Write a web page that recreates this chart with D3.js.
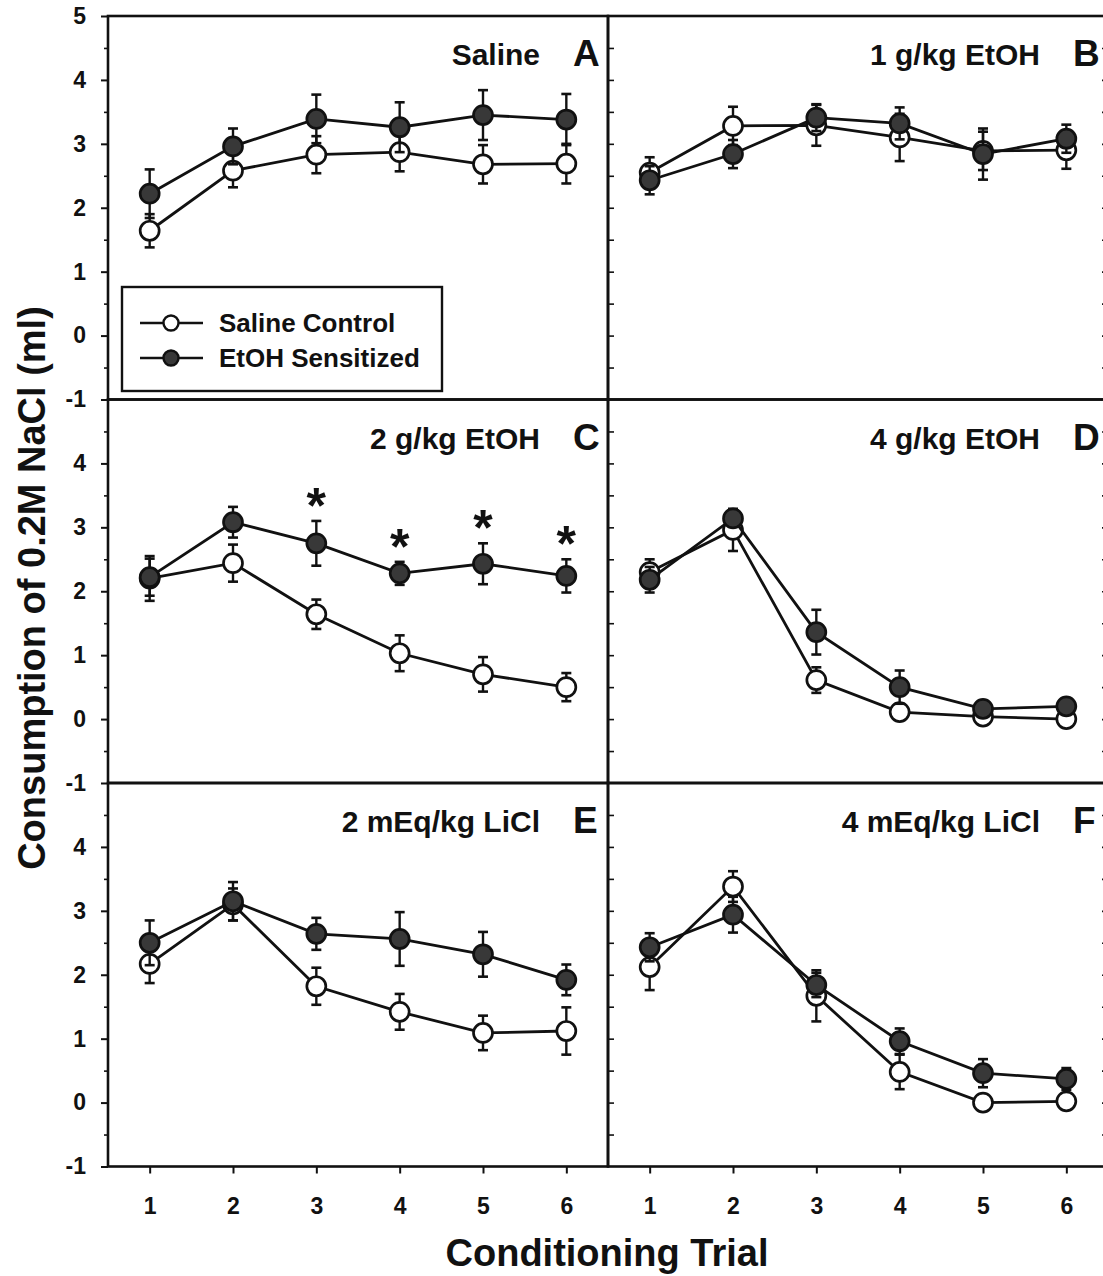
<!DOCTYPE html>
<html>
<head>
<meta charset="utf-8">
<script src="https://cdn.jsdelivr.net/npm/d3@7"></script>
<style>
  html, body { margin: 0; padding: 0; background: #fff; }
  svg { display: block; }
  text { font-family: "Liberation Sans", Arial, Helvetica, sans-serif; font-weight: bold; fill: #111; }
</style>
</head>
<body>
<script>
// Conditioning trials shared by every panel
const trials = [1, 2, 3, 4, 5, 6];

// Panel labels, in reading order A-F
const panelTitles = ["Saline", "1 g/kg EtOH", "2 g/kg EtOH", "4 g/kg EtOH", "2 mEq/kg LiCl", "4 mEq/kg LiCl"];
const panelLetters = ["A", "B", "C", "D", "E", "F"];

// Mean NaCl consumption (ml) and SEM per trial, saline control group
const controlMeans = [
  [1.64, 2.58, 2.83, 2.87, 2.68, 2.69],
  [2.55, 3.28, 3.29, 3.10, 2.89, 2.90],
  [2.20, 2.44, 1.64, 1.03, 0.70, 0.50],
  [2.30, 2.96, 0.61, 0.11, 0.04, 0.00],
  [2.17, 3.10, 1.82, 1.42, 1.09, 1.12],
  [2.12, 3.38, 1.67, 0.48, 0.00, 0.02]
];
const controlSEM = [
  [0.26, 0.26, 0.29, 0.30, 0.30, 0.31],
  [0.24, 0.30, 0.32, 0.37, 0.30, 0.29],
  [0.35, 0.29, 0.23, 0.28, 0.27, 0.22],
  [0.20, 0.33, 0.20, 0.08, 0.05, 0.05],
  [0.30, 0.25, 0.29, 0.28, 0.27, 0.37],
  [0.36, 0.24, 0.40, 0.27, 0.04, 0.04]
];

// Mean NaCl consumption (ml) and SEM per trial, EtOH sensitized group
const sensitizedMeans = [
  [2.22, 2.96, 3.39, 3.26, 3.45, 3.38],
  [2.43, 2.84, 3.41, 3.32, 2.84, 3.08],
  [2.22, 3.08, 2.75, 2.28, 2.43, 2.24],
  [2.18, 3.14, 1.36, 0.50, 0.16, 0.20],
  [2.50, 3.15, 2.64, 2.56, 2.32, 1.92],
  [2.43, 2.94, 1.84, 0.96, 0.46, 0.37]
];
const sensitizedSEM = [
  [0.38, 0.28, 0.38, 0.39, 0.39, 0.40],
  [0.22, 0.22, 0.21, 0.25, 0.40, 0.22],
  [0.29, 0.24, 0.35, 0.18, 0.32, 0.26],
  [0.20, 0.13, 0.35, 0.26, 0.07, 0.07],
  [0.35, 0.30, 0.25, 0.42, 0.35, 0.24],
  [0.22, 0.28, 0.19, 0.20, 0.22, 0.17]
];

// Trials with a significant group difference, per panel
const significantTrials = [[], [], [3, 4, 5, 6], [], [], []];

// Legend entries and axis titles
const seriesNames = ["Saline Control", "EtOH Sensitized"];
const yTitle = "Consumption of 0.2M NaCl (ml)";
const xTitle = "Conditioning Trial";

// ---------------- layout ----------------
const W = 1103, H = 1276;
const plotLeft = 108, panelW = 500;
const plotTop = 16, rowH = 383.5;
const nRows = 3, nCols = 2;

const svg = d3.select("body").append("svg")
  .attr("width", W).attr("height", H)
  .attr("viewBox", `0 0 ${W} ${H}`);
svg.append("rect").attr("width", W).attr("height", H).attr("fill", "#fff");

const ink = "#111";
const filledColor = "#383838";
const tickFmt = d => String(d);   // plain hyphen for negatives

function panelGeom(i) {
  const r = Math.floor(i / nCols), c = i % nCols;
  const x0 = plotLeft + c * panelW, y0 = plotTop + r * rowH;
  const x = d3.scaleLinear().domain([0.5, 6.5]).range([x0, x0 + panelW]);
  const y = d3.scaleLinear().domain([-1, 5]).range([y0 + rowH, y0]);
  return { r, c, x0, y0, x, y };
}

const halfSteps = d3.range(-1, 5.01, 0.5);

function styleTickText(sel) {
  sel.selectAll("text").attr("font-size", 23).attr("fill", ink)
    .attr("font-family", "Liberation Sans, Arial, sans-serif").attr("font-weight", "bold");
}

for (let i = 0; i < 6; i++) {
  const g = panelGeom(i);
  const pg = svg.append("g");

  // y axis: labelled on the outer left column, inward ticks along the divider
  if (g.c === 0) {
    const majors = g.r === 0 ? [-1, 0, 1, 2, 3, 4, 5] : [-1, 0, 1, 2, 3, 4];
    const majAx = pg.append("g").attr("transform", `translate(${g.x0},0)`)
      .call(d3.axisLeft(g.y).tickValues(majors).tickSize(7).tickPadding(15).tickFormat(tickFmt));
    majAx.select(".domain").remove();
    majAx.selectAll("line").attr("stroke", ink).attr("stroke-width", 2);
    styleTickText(majAx);
    const minAx = pg.append("g").attr("transform", `translate(${g.x0},0)`)
      .call(d3.axisLeft(g.y).tickValues(halfSteps.filter(v => v % 1 !== 0)).tickSize(4).tickFormat(""));
    minAx.select(".domain").remove();
    minAx.selectAll("line").attr("stroke", ink).attr("stroke-width", 1.6);
  } else {
    const inner = halfSteps.filter(v => v > -1 && v < 5);
    const inAx = pg.append("g").attr("transform", `translate(${g.x0},0)`)
      .call(d3.axisRight(g.y).tickValues(inner).tickSize(6).tickFormat(""));
    inAx.select(".domain").remove();
    inAx.selectAll("line").attr("stroke", ink).attr("stroke-width", 1.6);
    const outAx = pg.append("g").attr("transform", `translate(${g.x0 + panelW},0)`)
      .call(d3.axisLeft(g.y).tickValues(inner).tickSize(6).tickFormat(""));
    outAx.select(".domain").remove();
    outAx.selectAll("line").attr("stroke", ink).attr("stroke-width", 1.6);
  }

  // x axis on the bottom row
  if (g.r === nRows - 1) {
    const xAx = pg.append("g").attr("transform", `translate(0,${g.y0 + rowH})`)
      .call(d3.axisBottom(g.x).tickValues(trials).tickSize(7).tickPadding(24).tickFormat(tickFmt));
    xAx.select(".domain").remove();
    xAx.selectAll("line").attr("stroke", ink).attr("stroke-width", 2);
    styleTickText(xAx);
  }

  // panel frame
  pg.append("rect")
    .attr("x", g.x0).attr("y", g.y0)
    .attr("width", panelW).attr("height", rowH)
    .attr("fill", "none").attr("stroke", ink).attr("stroke-width", 2.6);

  // panel title and letter
  pg.append("text")
    .attr("x", g.x0 + 432).attr("y", g.y0 + 49)
    .attr("text-anchor", "end").attr("font-size", 30)
    .text(panelTitles[i]);
  pg.append("text")
    .attr("x", g.x0 + 465).attr("y", g.y0 + 50)
    .attr("text-anchor", "start").attr("font-size", 37)
    .text(panelLetters[i]);

  // series: control first, sensitized drawn over it
  const series = [
    { means: controlMeans[i], sem: controlSEM[i], fill: "#fff" },
    { means: sensitizedMeans[i], sem: sensitizedSEM[i], fill: filledColor }
  ];
  const line = d3.line().x((d, k) => g.x(trials[k])).y(d => g.y(d));

  series.forEach(s => {
    const sg = pg.append("g");
    sg.append("path").datum(s.means)
      .attr("d", line).attr("fill", "none")
      .attr("stroke", ink).attr("stroke-width", 2.8);

    const eb = sg.selectAll(".eb").data(s.means).enter().append("g");
    eb.append("line")
      .attr("x1", (d, k) => g.x(trials[k])).attr("x2", (d, k) => g.x(trials[k]))
      .attr("y1", (d, k) => g.y(d - s.sem[k])).attr("y2", (d, k) => g.y(d + s.sem[k]))
      .attr("stroke", ink).attr("stroke-width", 2.4);
    [-1, 1].forEach(sign => {
      eb.append("line")
        .attr("x1", (d, k) => g.x(trials[k]) - 5).attr("x2", (d, k) => g.x(trials[k]) + 5)
        .attr("y1", (d, k) => g.y(d + sign * s.sem[k])).attr("y2", (d, k) => g.y(d + sign * s.sem[k]))
        .attr("stroke", ink).attr("stroke-width", 2.6);
    });

    sg.selectAll("circle").data(s.means).enter().append("circle")
      .attr("cx", (d, k) => g.x(trials[k])).attr("cy", d => g.y(d))
      .attr("r", 9.5).attr("fill", s.fill)
      .attr("stroke", ink).attr("stroke-width", 2.7);
  });

  // significance markers above the sensitized error bar
  significantTrials[i].forEach(t => {
    const k = trials.indexOf(t);
    const yTop = g.y(sensitizedMeans[i][k] + sensitizedSEM[i][k]);
    pg.append("text")
      .attr("x", g.x(t)).attr("y", yTop + 2)
      .attr("text-anchor", "middle").attr("font-size", 50)
      .text("*");
  });
}

// legend inside panel A
const lg = svg.append("g");
lg.append("rect").attr("x", 122).attr("y", 287).attr("width", 320).attr("height", 104)
  .attr("fill", "#fff").attr("stroke", ink).attr("stroke-width", 2.4);
seriesNames.forEach((name, k) => {
  const yy = 323 + k * 35;
  lg.append("line").attr("x1", 140).attr("x2", 203).attr("y1", yy).attr("y2", yy)
    .attr("stroke", ink).attr("stroke-width", 2.6);
  lg.append("circle").attr("cx", 171).attr("cy", yy).attr("r", 7.5)
    .attr("fill", k === 0 ? "#fff" : filledColor).attr("stroke", ink).attr("stroke-width", 2.4);
  lg.append("text").attr("x", 219).attr("y", yy + 9).attr("font-size", 26).text(name);
});

// axis titles
svg.append("text")
  .attr("transform", `translate(45,588) rotate(-90)`)
  .attr("text-anchor", "middle").attr("font-size", 38)
  .text(yTitle);
svg.append("text")
  .attr("x", 607).attr("y", 1266)
  .attr("text-anchor", "middle").attr("font-size", 38)
  .text(xTitle);
</script>
</body>
</html>
